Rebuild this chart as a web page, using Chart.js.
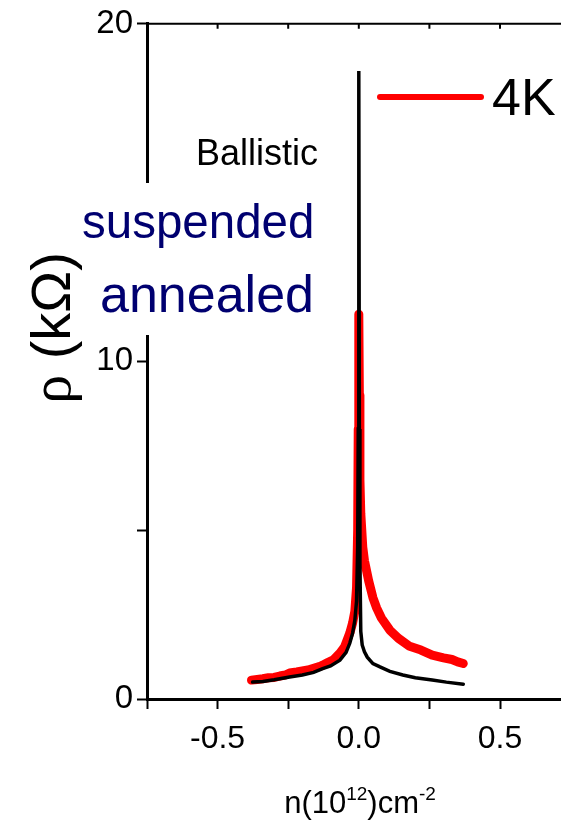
<!DOCTYPE html>
<html>
<head>
<meta charset="utf-8">
<script src="https://cdn.jsdelivr.net/npm/chart.js@4.4.0/dist/chart.umd.min.js"></script>
<style>
  html, body { margin: 0; padding: 0; background: #fff; }
  canvas { display: block; }
</style>
</head>
<body>
<canvas id="rhoChart" width="561" height="822"></canvas>
<script>
// 4K curve (red) - n in 10^12 cm^-2, rho in kOhm
const nRed = [-0.380, -0.360, -0.340, -0.320, -0.300, -0.280, -0.260, -0.245, -0.220, -0.200,
  -0.180, -0.160, -0.140, -0.128, -0.110, -0.090, -0.067, -0.050, -0.032, -0.022,
  -0.014, -0.008, -0.004, -0.002, 0.000, 0.002, 0.004, 0.007, 0.014, 0.020,
  0.035, 0.050, 0.063, 0.080, 0.110, 0.140, 0.180, 0.220, 0.260, 0.300,
  0.330, 0.350, 0.370];
const rhoRed = [0.56, 0.58, 0.60, 0.63, 0.64, 0.68, 0.71, 0.77, 0.80, 0.83,
  0.86, 0.91, 0.96, 1.00, 1.08, 1.16, 1.36, 1.55, 1.95, 2.25,
  2.60, 3.30, 5.00, 8.00, 11.40, 9.00, 6.50, 5.50, 4.50, 4.10,
  3.50, 3.00, 2.70, 2.40, 2.04, 1.80, 1.56, 1.45, 1.30, 1.22,
  1.17, 1.10, 1.05];

// ballistic curve (black)
const nBlack = [-0.376, -0.340, -0.300, -0.245, -0.200, -0.160, -0.128, -0.100, -0.067, -0.045,
  -0.032, -0.022, -0.014, -0.008, -0.004, -0.002, 0.000, 0.002, 0.004, 0.007,
  0.012, 0.020, 0.030, 0.050, 0.075, 0.110, 0.156, 0.200, 0.260, 0.310, 0.370];
const rhoBlack = [0.50, 0.52, 0.57, 0.65, 0.71, 0.79, 0.90, 0.98, 1.15, 1.38,
  1.65, 1.95, 2.33, 2.90, 4.50, 8.00, 18.60, 8.00, 4.00, 2.00,
  1.60, 1.40, 1.24, 1.05, 0.95, 0.82, 0.71, 0.63, 0.56, 0.50, 0.44];

const xTicks = [-0.75, -0.5, -0.25, 0, 0.25, 0.5];
const xLabels = [-0.5, 0, 0.5];
const yTicks = [0, 5, 10, 15, 20];
const yLabels = [0, 10, 20];

const FONT = "'Liberation Sans', Arial, sans-serif";
const SERIF = "'Liberation Serif', 'Times New Roman', serif";

function toPoints(xs, ys) {
  return xs.map((x, i) => ({ x: x, y: ys[i] }));
}

// draws a row of [text, font] parts, centred on cx
function drawParts(ctx, parts, cx, y) {
  let w = 0;
  parts.forEach(p => { ctx.font = p[1]; w += ctx.measureText(p[0]).width; });
  let x = cx - w / 2;
  ctx.textAlign = 'left';
  parts.forEach(p => {
    ctx.font = p[1];
    ctx.fillText(p[0], x, y + (p[2] || 0));
    x += ctx.measureText(p[0]).width;
  });
}

// texts, legend, top frame, axis titles
const extras = {
  id: 'extras',
  afterDraw(chart) {
    const ctx = chart.ctx;
    const area = chart.chartArea;
    const xs = chart.scales.x;
    ctx.save();

    // top frame with inward ticks
    ctx.strokeStyle = '#000';
    ctx.lineWidth = 2;
    ctx.beginPath();
    ctx.moveTo(area.left, area.top);
    ctx.lineTo(area.right, area.top);
    xTicks.forEach(v => {
      const px = xs.getPixelForValue(v);
      ctx.moveTo(px, area.top);
      ctx.lineTo(px, area.top + 5);
    });
    ctx.stroke();

    // white box behind the sample text (hides the axis there)
    ctx.fillStyle = '#fff';
    ctx.fillRect(72, 183, 248, 152);

    ctx.fillStyle = '#000';
    ctx.textBaseline = 'alphabetic';
    ctx.textAlign = 'right';
    ctx.font = '36px ' + FONT;
    ctx.fillText('Ballistic', 318, 165);

    ctx.fillStyle = '#000070';
    ctx.textAlign = 'left';
    ctx.font = '47.5px ' + FONT;
    ctx.fillText('suspended', 82, 238);
    ctx.font = '52px ' + FONT;
    ctx.fillText('annealed', 100, 312);

    // legend
    ctx.strokeStyle = '#ff0000';
    ctx.lineWidth = 6;
    ctx.lineCap = 'round';
    ctx.beginPath();
    ctx.moveTo(380, 97);
    ctx.lineTo(481, 97);
    ctx.stroke();
    ctx.fillStyle = '#000';
    ctx.font = '52px ' + FONT;
    ctx.fillText('4K', 492, 115);

    // y title
    ctx.save();
    ctx.translate(70, 328);
    ctx.rotate(-Math.PI / 2);
    drawParts(ctx, [['\u03C1', '58px ' + SERIF], [' (k\u03A9)', '56px ' + FONT]], 0, 0);
    ctx.restore();

    // x title with superscripts
    drawParts(ctx, [
      ['n(10', '31px ' + FONT],
      ['12', '19px ' + FONT, -13],
      [')cm', '31px ' + FONT],
      ['-2', '19px ' + FONT, -13]
    ], 360, 813);

    ctx.restore();
  }
};

new Chart(document.getElementById('rhoChart'), {
  type: 'line',
  data: {
    datasets: [
      {
        label: 'Ballistic',
        data: toPoints(nBlack, rhoBlack),
        borderColor: '#000',
        borderWidth: 3.5,
        pointRadius: 0,
        borderCapStyle: 'round',
        tension: 0,
        order: 0
      },
      {
        label: '4K',
        data: toPoints(nRed, rhoRed),
        borderColor: '#ff0000',
        borderWidth: 9,
        pointRadius: 0,
        borderCapStyle: 'round',
        borderJoinStyle: 'round',
        tension: 0,
        order: 1
      }
    ]
  },
  options: {
    responsive: false,
    animation: false,
    layout: { padding: { top: 22, right: 0, left: 0, bottom: 0 } },
    plugins: { legend: { display: false }, tooltip: { enabled: false } },
    scales: {
      x: {
        type: 'linear',
        min: -0.75,
        max: 0.716,
        afterBuildTicks: s => { s.ticks = xTicks.map(v => ({ value: v })); },
        afterFit: s => { s.height = 123; },
        border: { display: true, color: '#000', width: 3 },
        grid: { drawOnChartArea: false, tickLength: 10, tickWidth: 2, tickColor: '#000' },
        ticks: {
          padding: 11,
          color: '#000',
          font: { size: 32, family: FONT },
          maxRotation: 0,
          callback: v => xLabels.includes(v) ? v.toFixed(1) : ''
        }
      },
      y: {
        min: 0,
        max: 20,
        afterBuildTicks: s => { s.ticks = yTicks.map(v => ({ value: v })); },
        afterFit: s => { s.width = 147; },
        border: { display: true, color: '#000', width: 3 },
        grid: { drawOnChartArea: false, tickLength: 10, tickWidth: 2, tickColor: '#000' },
        ticks: {
          padding: 4,
          color: '#000',
          font: { size: 33, family: FONT },
          callback: v => yLabels.includes(v) ? String(v) : ''
        }
      }
    }
  },
  plugins: [extras]
});
</script>
</body>
</html>
